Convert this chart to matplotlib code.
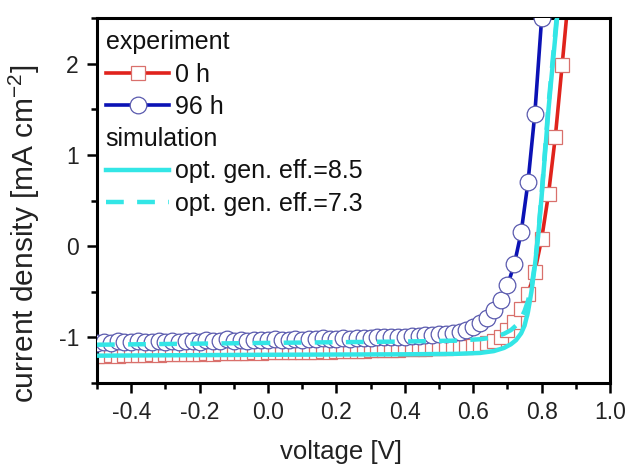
import numpy as np
import matplotlib
matplotlib.use("Agg")
import matplotlib.pyplot as plt
from matplotlib.lines import Line2D
from matplotlib.ticker import MultipleLocator

plt.rcParams['font.family'] = ['Liberation Sans', 'DejaVu Sans']
plt.rcParams['mathtext.fontset'] = 'custom'
plt.rcParams['mathtext.rm'] = 'Liberation Sans'

# Measured J-V sweep, 0 h (fresh device): -0.50 V ... 0.88 V in 20 mV steps
v_0h = np.round(np.linspace(-0.50, 0.88, 70), 2)
j_0h = [
    -1.200, -1.200, -1.195, -1.200, -1.195, -1.190, -1.190, -1.190, -1.185, -1.190,
    -1.185, -1.180, -1.185, -1.180, -1.180, -1.180, -1.175, -1.180, -1.175, -1.170,
    -1.175, -1.170, -1.170, -1.165, -1.170, -1.165, -1.160, -1.165, -1.160, -1.160,
    -1.155, -1.160, -1.155, -1.150, -1.155, -1.150, -1.150, -1.145, -1.150, -1.145,
    -1.140, -1.140, -1.140, -1.135, -1.135, -1.130, -1.130, -1.125, -1.125, -1.120,
    -1.120, -1.115, -1.110, -1.105, -1.100, -1.090, -1.080, -1.065, -1.035, -0.990,
    -0.920, -0.830, -0.690, -0.520, -0.280, 0.080, 0.570, 1.200, 1.990, 2.800,
]

# Measured J-V sweep after 96 h: -0.50 V ... 0.80 V in 20 mV steps
v_96h = np.round(np.linspace(-0.50, 0.80, 66), 2)
j_96h = [
    -1.060, -1.050, -1.060, -1.040, -1.050, -1.055, -1.040, -1.050, -1.045, -1.035,
    -1.045, -1.040, -1.050, -1.035, -1.040, -1.045, -1.030, -1.040, -1.035, -1.020,
    -1.035, -1.030, -1.035, -1.025, -1.030, -1.030, -1.020, -1.030, -1.025, -1.015,
    -1.025, -1.020, -1.020, -1.010, -1.020, -1.015, -1.010, -1.015, -1.005, -1.010,
    -1.005, -1.000, -1.000, -0.995, -0.990, -0.990, -0.985, -0.980, -0.975, -0.970,
    -0.965, -0.960, -0.955, -0.940, -0.920, -0.890, -0.845, -0.785, -0.700, -0.590,
    -0.430, -0.200, 0.150, 0.700, 1.450, 2.500,
]

# Drift-diffusion simulation for two optical generation efficiencies
v_sim = [-0.50, 0.00, 0.40, 0.55, 0.62, 0.66, 0.69, 0.71, 0.725, 0.74,
         0.75, 0.76, 0.77, 0.78, 0.79, 0.80, 0.81, 0.82, 0.835, 0.85]
j_sim_85 = [-1.200, -1.190, -1.185, -1.180, -1.170, -1.150, -1.115, -1.075, -1.030, -0.955,
            -0.870, -0.720, -0.500, -0.220, 0.120, 0.550, 1.020, 1.500, 2.100, 2.700]
j_sim_73 = [-1.080, -1.060, -1.045, -1.035, -1.020, -1.000, -0.960, -0.920, -0.870, -0.790,
            -0.710, -0.600, -0.450, -0.200, 0.140, 0.580, 1.060, 1.550, 2.150, 2.750]

labels = ['experiment', '0 h', '96 h', 'simulation',
          'opt. gen. eff.=8.5', 'opt. gen. eff.=7.3']

RED = '#e0231c'
RED_EDGE = '#d9706c'
BLUE = '#0b12b5'
BLUE_EDGE = '#5a5aae'
CYAN = '#33e6e6'

fig = plt.figure(figsize=(6.27, 4.66), dpi=100)
ax = fig.add_axes([0.1547, 0.178, 0.8183, 0.7834])

l0, = ax.plot(v_0h, j_0h, color=RED, lw=2.6, marker='s', ms=10,
              mfc='white', mec=RED_EDGE, mew=0.9, zorder=2)
l96, = ax.plot(v_96h, j_96h, color=BLUE, lw=2.6, marker='o', ms=12,
               mfc='white', mec=BLUE_EDGE, mew=0.9, zorder=3)
s85, = ax.plot(v_sim, j_sim_85, color=CYAN, lw=3.2, zorder=4)
s73, = ax.plot(v_sim, j_sim_73, color=CYAN, lw=3.2, dashes=(4, 3), zorder=4)

ax.set_xlim(-0.5, 1.0)
ax.set_ylim(-1.5, 2.5)
ax.xaxis.set_minor_locator(MultipleLocator(0.1))
ax.yaxis.set_minor_locator(MultipleLocator(0.5))
ax.set_xticks([-0.4, -0.2, 0.0, 0.2, 0.4, 0.6, 0.8, 1.0])
ax.set_xticklabels(['-0.4', '-0.2', '0.0', '0.2', '0.4', '0.6', '0.8', '1.0'])
ax.set_yticks([-1, 0, 1, 2])
ax.set_yticklabels(['-1', '0', '1', '2'])

for s in ax.spines.values():
    s.set_linewidth(2.2)
ax.tick_params(which='major', direction='out', length=7, width=1.8,
               labelsize=16.5, pad=6, colors='black')
ax.tick_params(which='minor', direction='out', length=4.5, width=1.8)
ax.tick_params(axis='both', labelcolor='#222222')

ax.set_xlabel('voltage [V]', fontsize=18.5, color='#222222')
ax.set_ylabel(r'current density [mA cm$^{\mathregular{-2}}$]', fontsize=21.5,
              color='#222222')
ax.xaxis.set_label_coords(0.476, -0.156)
ax.yaxis.set_label_coords(-0.108, 0.41)

blank = Line2D([], [], linestyle='none')
leg_fs = 18
hl, htp = 2.55, 0.22
leg = ax.legend([blank, l0, l96, blank, s85, s73], labels,
                loc='upper left', bbox_to_anchor=(0.0, 0.99), frameon=False,
                fontsize=leg_fs, handlelength=hl, handletextpad=htp,
                numpoints=1, labelspacing=0.33, borderaxespad=0.0,
                borderpad=0.35, labelcolor='#111111')

# Group headers sit flush with the sample lines instead of the text column
shift_px = (hl + htp) * leg_fs * fig.dpi / 72.0
for idx in (0, 3):
    leg.get_texts()[idx].set_position((-shift_px, 0))

fig.savefig('out.png', dpi=100)
